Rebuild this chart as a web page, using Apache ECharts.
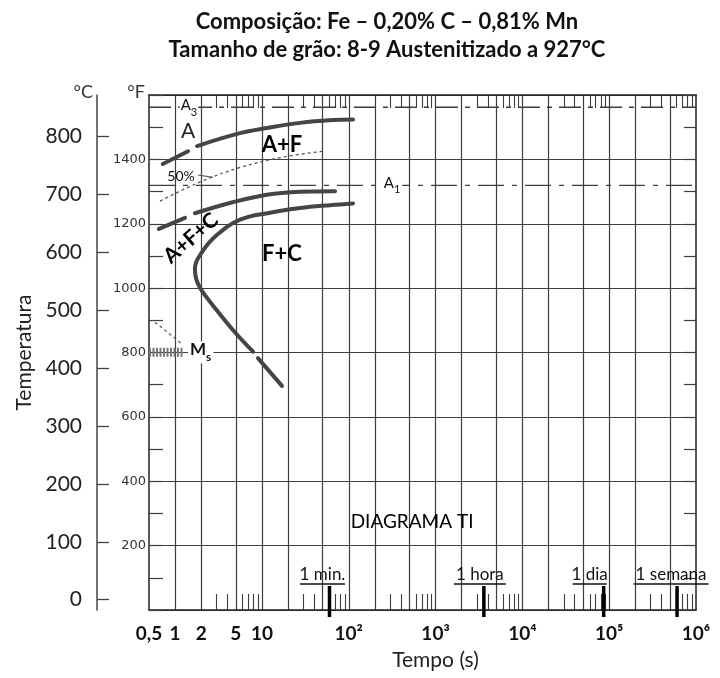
<!DOCTYPE html>
<html><head><meta charset="utf-8">
<script src="https://cdn.jsdelivr.net/npm/echarts@6/dist/echarts.min.js"></script>
<style>html,body{margin:0;padding:0;background:#fff}#c{width:720px;height:678px}</style>
</head><body><div id="c"></div>
<script>
// ---------- data ----------
const timeTickValues = [0.5, 1, 2, 5, 10, 100, 1000, 10000, 100000, 1000000];
const timeTickLabels = ['0,5', '1', '2', '5', '10', '10²', '10³', '10⁴', '10⁵', '10⁶'];
const timeGridValues = [1, 2, 5, 10, 20, 50, 100, 200, 500, 1000, 2000, 5000, 10000, 20000, 50000, 100000, 200000, 500000];
const timeMinorValues = [3, 4, 6, 7, 8, 9, 30, 40, 60, 70, 80, 90, 300, 400, 600, 700, 800, 900,
  3000, 4000, 6000, 7000, 8000, 9000, 30000, 40000, 60000, 70000, 80000, 90000,
  300000, 400000, 600000, 700000, 800000, 900000];
const celsiusTicks = [0, 100, 200, 300, 400, 500, 600, 700, 800];
const fahrenheitLabels = [200, 400, 600, 800, 1000, 1200, 1400];
const fahrenheitRange = [0, 1600];

// transformation curves: [time (s), temperature (°C)]
const ferriteStartA = [[0.72, 752], [1.41, 774]];
const ferriteStartB = [[1.79, 783], [5.2, 804], [11.4, 814], [27.5, 823], [66, 828], [112, 829]];
const ferrite50 = [[0.67, 688], [1.94, 721], [5.6, 746], [17.5, 764], [50.6, 774]];
const pearliteStartA = [[0.65, 640], [1.30, 659]];
const pearliteStartB = [[1.69, 667], [4.6, 686], [11.4, 699], [27.5, 704], [69.5, 705]];
const finishA = [[112, 684], [61, 681], [27.5, 676], [12.4, 668], [5.6, 656], [3.0, 629], [2.04, 600],
  [1.69, 572], [1.74, 555], [1.94, 538], [2.33, 521], [3.0, 500], [4.6, 466], [7.9, 428]];
const finishB = [[9.0, 417], [17.0, 369]];
const msBand = [[0.5, 427], [1.23, 427]];
const msLeader = [[0.586, 479], [1.23, 440]];
const pctLeader = [[1.84, 733], [2.73, 729]];
const A3temp = 850;
const A1temp = 715;

const annotations = [
  [17, 785, 'A+F'], [17, 597, 'F+C'], [1.52, 624, 'A+F+C'], [1.41, 809, 'A'],
  [1.444, 849, '{b|A}{s|3}'], [315, 715, '{b|A}{s|1}'], [1.17, 731, '50%'], [1.97, 427, '{b|M}{s|s}'], [536, 134, 'DIAGRAMA TI']
];
const timeMarkers = [60, 3600, 86400, 604800];
const timeMarkerLabels = ['1 min.', '1 hora', '1 dia', '1 semana'];
const markerBar = [-30, 23.6];

// ---------- chart ----------
const F2C = f => (f - 32) * 5 / 9;
const cMin = F2C(fahrenheitRange[0]), cMax = F2C(fahrenheitRange[1]);
const FONT = 'Lato, "DejaVu Sans", sans-serif';
const GRID = '#3d3d3d';
const CURVE = '#454545';

function subRich(size, weight) {
  return {
    b: {fontSize: size, fontWeight: weight, fontFamily: FONT, color: '#111', lineHeight: size + 5, verticalAlign: 'top'},
    s: {fontSize: Math.round(size * 0.72), fontWeight: weight, fontFamily: FONT, color: '#111', lineHeight: Math.round(size * 0.72), verticalAlign: 'bottom'}
  };
}
const annStyles = [
  {fontSize: 22, fontWeight: 'bold', color: '#000'},
  {fontSize: 22, fontWeight: 'bold', color: '#000'},
  {fontSize: 21, fontWeight: 'bold', color: '#000', rotate: 41},
  {fontSize: 21, color: '#222'},
  {backgroundColor: '#fff', padding: [0, 1], rich: subRich(15, 'normal')},
  {backgroundColor: '#fff', padding: [0, 2], rich: subRich(15, 'normal')},
  {fontSize: 14, color: '#111'},
  {backgroundColor: '#fff', padding: [0, 2], rich: subRich(17, 'bold')},
  {fontSize: 19, color: '#000'}
];
const markerOffsets = [[-7, 0], [-4, 0], [-14, 0], [-6, 0]];
const markerUnderline = [45, 52, 34, 75];

function curve(data, extra) {
  return Object.assign({
    type: 'line', xAxisIndex: 0, yAxisIndex: 1, data: data, smooth: 0.4, symbol: 'none', silent: true, z: 5,
    lineStyle: {width: 4, color: CURVE, cap: 'round'}
  }, extra || {});
}

const series = [
  curve(ferriteStartA), curve(ferriteStartB), curve(pearliteStartA), curve(pearliteStartB),
  curve(finishA), curve(finishB),
  curve(ferrite50, {lineStyle: {width: 1.3, color: '#555', type: [3, 3]}}),
  curve(pctLeader, {smooth: false, lineStyle: {width: 1.2, color: '#555'}}),
  curve(msLeader, {smooth: false, lineStyle: {width: 1.2, color: '#555', type: [3, 3]}}),
  curve(msBand, {smooth: false, lineStyle: {width: 9, color: '#777', type: [2, 1.5], cap: 'butt'}, z: 6}),
  curve([[0.5, A3temp], [1e6, A3temp]], {smooth: false, z: 3, lineStyle: {width: 1.3, color: GRID, type: [22, 7, 5, 7]}}),
  curve([[0.5, A1temp], [1e6, A1temp]], {smooth: false, z: 3, lineStyle: {width: 1.3, color: GRID, type: [26, 8, 5, 8]}}),
  {
    type: 'scatter', xAxisIndex: 0, yAxisIndex: 1, symbolSize: 0, silent: true, z: 8,
    itemStyle: {color: '#000', opacity: 1},
    data: annotations.map((a, i) => ({
      value: [a[0], a[1]],
      label: Object.assign({show: true, position: 'inside', formatter: a[2], fontFamily: FONT,
        textBorderWidth: 0, textBorderColor: 'transparent', textShadowBlur: 0}, annStyles[i])
    }))
  },
  {
    type: 'scatter', xAxisIndex: 0, yAxisIndex: 1, symbolSize: 0, silent: true, z: 8, clip: false,
    itemStyle: {color: '#000', opacity: 1},
    data: timeMarkers.map((t, i) => ({
      value: [t, markerBar[1]],
      label: {
        show: true, position: 'top', distance: 1, offset: markerOffsets[i],
        fontSize: 17, color: '#111', fontFamily: FONT, textBorderWidth: 0,
        formatter: '{t|' + timeMarkerLabels[i] + '}\n{u| }',
        rich: {
          t: {fontSize: 17, fontFamily: FONT, color: '#111', lineHeight: 18, align: 'center'},
          u: {width: markerUnderline[i], height: 1.6, lineHeight: 2, fontSize: 1, backgroundColor: '#111', align: 'center'}
        }
      }
    }))
  }
];
timeMarkers.forEach((t) => {
  series.push({
    type: 'line', xAxisIndex: 0, yAxisIndex: 1, symbol: 'none', silent: true, clip: false, z: 7,
    lineStyle: {width: 3.5, color: '#000', cap: 'butt'},
    data: [[t, markerBar[0]], [t, markerBar[1]]]
  });
});

function nearestLabel(v) {
  let best = 0, bd = 1e9;
  timeTickValues.forEach((tv, i) => {
    const d = Math.abs(Math.log10(tv) - Math.log10(v));
    if (d < bd) { bd = d; best = i; }
  });
  return timeTickLabels[best];
}

const logBase = {type: 'log', logBase: 10, min: timeTickValues[0], max: timeTickValues[timeTickValues.length - 1]};
const option = {
  animation: false,
  textStyle: {fontFamily: FONT},
  title: {
    text: 'Composição: Fe – 0,20% C – 0,81% Mn\nTamanho de grão: 8-9 Austenitizado a 927°C',
    left: 387, textAlign: 'center', top: 8, padding: 0,
    textStyle: {fontFamily: FONT, fontWeight: 'bold', fontSize: 22, lineHeight: 28, color: '#111'}
  },
  grid: {left: 149, right: 24, top: 95, bottom: 68},
  xAxis: [
    Object.assign({}, logBase, {
      position: 'bottom',
      axisLine: {show: true, onZero: false, lineStyle: {color: '#222', width: 1.5}},
      axisTick: {show: true, inside: true, length: 16, customValues: timeMinorValues, lineStyle: {color: GRID, width: 1.1}},
      minorTick: {show: false},
      axisLabel: {customValues: timeTickValues, formatter: nearestLabel, fontFamily: FONT, fontWeight: 'bold', fontSize: 19, color: '#111', margin: 14},
      splitLine: {show: false},
      name: 'Tempo (s)', nameLocation: 'middle', nameGap: 40,
      nameTextStyle: {fontSize: 21, fontFamily: FONT, color: '#222', padding: [0, 0, 0, 26]}
    }),
    Object.assign({}, logBase, {
      position: 'top',
      axisLine: {show: true, onZero: false, lineStyle: {color: '#222', width: 1.5}},
      axisTick: {show: true, inside: true, length: 13, customValues: timeMinorValues, lineStyle: {color: GRID, width: 1.1}},
      axisLabel: {show: false}, splitLine: {show: false}, minorTick: {show: false}
    }),
    Object.assign({}, logBase, {
      position: 'bottom',
      axisLine: {show: false, onZero: false},
      axisTick: {show: false, customValues: timeGridValues},
      axisLabel: {show: false},
      splitLine: {show: true, lineStyle: {color: GRID, width: 1.2}}
    })
  ],
  yAxis: [
    {
      type: 'value', min: fahrenheitRange[0], max: fahrenheitRange[1], interval: 200, position: 'left',
      axisLine: {show: true, onZero: false, lineStyle: {color: '#222', width: 1.5}},
      axisTick: {show: true, inside: true, length: 14, lineStyle: {color: GRID, width: 1.2}},
      minorTick: {show: true, splitNumber: 2, length: 14, lineStyle: {color: GRID, width: 1.2}},
      axisLabel: {customValues: fahrenheitLabels, formatter: v => String(v), fontFamily: '"DejaVu Sans", sans-serif', fontSize: 13, color: '#333', margin: 3},
      splitLine: {show: true, lineStyle: {color: GRID, width: 1.2}},
      name: '°F', nameLocation: 'end', nameGap: -6,
      nameTextStyle: {align: 'right', fontSize: 18, color: '#333', fontFamily: FONT, padding: [0, 4, 0, 0]}
    },
    {
      type: 'value', min: cMin, max: cMax, position: 'left', offset: 52,
      axisLine: {show: true, onZero: false, lineStyle: {color: '#444', width: 1.5}},
      axisTick: {show: true, inside: true, length: 12, customValues: celsiusTicks, lineStyle: {color: '#444', width: 1.3}},
      axisLabel: {customValues: celsiusTicks, formatter: v => String(v), fontFamily: FONT, fontSize: 21, color: '#222', margin: 15},
      splitLine: {show: false},
      name: 'Temperatura', nameLocation: 'middle', nameGap: 60,
      nameTextStyle: {fontSize: 21, fontFamily: FONT, color: '#222'}
    },
    {
      type: 'value', min: cMin, max: cMax, position: 'left', offset: 52,
      axisLine: {show: false, onZero: false}, axisTick: {show: false}, axisLabel: {show: false}, splitLine: {show: false},
      name: '°C', nameLocation: 'end', nameGap: -6,
      nameTextStyle: {align: 'right', fontSize: 18, color: '#333', fontFamily: FONT, padding: [0, 4, 0, 0]}
    },
    {
      type: 'value', min: fahrenheitRange[0], max: fahrenheitRange[1], interval: 200, position: 'right',
      axisLine: {show: true, onZero: false, lineStyle: {color: '#222', width: 1.5}},
      axisTick: {show: true, inside: true, length: 12, lineStyle: {color: GRID, width: 1.2}},
      minorTick: {show: true, splitNumber: 2, length: 12, lineStyle: {color: GRID, width: 1.2}},
      axisLabel: {show: false}, splitLine: {show: false}
    }
  ],
  series: series
};
const chart = echarts.init(document.getElementById('c'), null, {renderer: 'canvas'});
chart.setOption(option);
</script>
</body></html>
